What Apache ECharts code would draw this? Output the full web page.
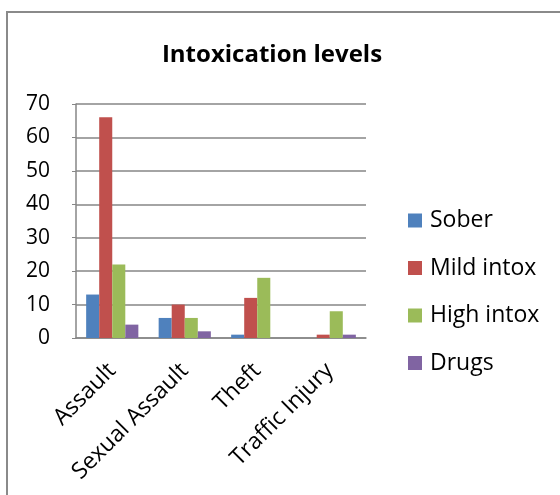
<!DOCTYPE html>
<html>
<head>
<meta charset="utf-8">
<script src="https://cdn.jsdelivr.net/npm/echarts@6/dist/echarts.min.js"></script>
<style>html,body{margin:0;padding:0;background:#fff}#c{width:560px;height:495px}</style>
</head>
<body>
<div id="c"></div>
<script>
var categories = ['Assault', 'Sexual Assault', 'Theft', 'Traffic Injury'];
var seriesNames = ['Sober', 'Mild intox', 'High intox', 'Drugs'];
var sober = [13, 6, 1, 0];
var mildIntox = [66, 10, 12, 1];
var highIntox = [22, 6, 18, 8];
var drugs = [4, 2, 0, 1];
var yTicks = [0, 10, 20, 30, 40, 50, 60, 70];
var colors = ['#4F81BD', '#C0504D', '#9BBB59', '#8064A2'];

var FONT = '"Open Sans", sans-serif';
var values = [sober, mildIntox, highIntox, drugs];
var chart = echarts.init(document.getElementById('c'), null, {renderer: 'canvas'});
chart.setOption({
  animation: false,
  color: colors,
  textStyle: {fontFamily: FONT},
  title: {
    text: 'Intoxication levels',
    left: 267, top: 38, textAlign: 'center',
    textStyle: {fontFamily: FONT, fontSize: 24, fontWeight: 'bold', color: '#000'}
  },
  graphic: [{
    type: 'rect', silent: true, z: -1,
    shape: {x: 7, y: 12, width: 620, height: 600},
    style: {fill: 'none', stroke: '#8a8a8a', lineWidth: 2}
  }],
  legend: {
    orient: 'vertical', left: 403, top: 204,
    itemWidth: 14, itemHeight: 14, itemGap: 24.5,
    icon: 'rect',
    textStyle: {fontFamily: FONT, fontSize: 23, lineHeight: 23, color: '#000', padding: [0, 0, 0, 3]},
    data: seriesNames
  },
  grid: {left: 76, top: 104, right: 194, bottom: 157, containLabel: false},
  xAxis: {
    type: 'category', data: categories,
    axisLine: {lineStyle: {color: '#868686', width: 1.5}},
    axisTick: {show: false},
    axisLabel: {rotate: 45, fontSize: 23, color: '#000', margin: 29, fontFamily: FONT, interval: 0}
  },
  yAxis: {
    type: 'value', min: yTicks[0], max: yTicks[yTicks.length - 1], interval: 10,
    axisLine: {show: true, lineStyle: {color: '#868686', width: 1.5}},
    axisTick: {show: true, length: 4, lineStyle: {color: '#868686'}},
    axisLabel: {fontSize: 21, color: '#000', margin: 26, fontFamily: FONT},
    splitLine: {lineStyle: {color: '#868686', width: 1.5}}
  },
  series: seriesNames.map(function (n, i) {
    return {
      name: n, type: 'bar', data: values[i],
      barGap: '0%', barCategoryGap: '28%',
      itemStyle: {color: colors[i]}
    };
  })
});
</script>
</body>
</html>
